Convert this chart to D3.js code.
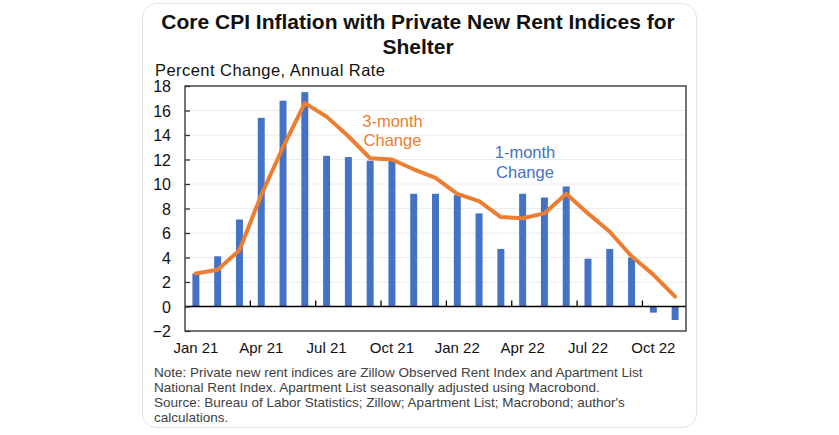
<!DOCTYPE html>
<html>
<head>
<meta charset="utf-8">
<script src="https://cdn.jsdelivr.net/npm/d3@7"></script>
<style>
  html, body { margin: 0; padding: 0; background: #ffffff; }
  svg { display: block; font-family: "Liberation Sans", Arial, sans-serif; }
</style>
</head>
<body>
<svg id="chart" width="839" height="435"></svg>
<script>
// ---- Data ----
const months = ["Jan 21","Feb 21","Mar 21","Apr 21","May 21","Jun 21","Jul 21","Aug 21","Sep 21","Oct 21","Nov 21","Dec 21",
                "Jan 22","Feb 22","Mar 22","Apr 22","May 22","Jun 22","Jul 22","Aug 22","Sep 22","Oct 22","Nov 22"];
const oneMonthChange = [2.7, 4.1, 7.1, 15.4, 16.8, 17.5, 12.3, 12.2, 11.9, 12.0, 9.2, 9.2,
                        9.1, 7.6, 4.7, 9.2, 8.9, 9.8, 3.9, 4.7, 4.0, -0.5, -1.1];
const threeMonthChange = [2.7, 3.0, 4.6, 9.1, 13.0, 16.6, 15.5, 13.9, 12.1, 12.0, 11.2, 10.5,
                          9.2, 8.6, 7.3, 7.2, 7.6, 9.2, 7.6, 6.1, 4.1, 2.6, 0.8];
const xTickLabels = ["Jan 21","Apr 21","Jul 21","Oct 21","Jan 22","Apr 22","Jul 22","Oct 22"];
const yTickValues = [-2, 0, 2, 4, 6, 8, 10, 12, 14, 16, 18];
const titleLines = ["Core CPI Inflation with Private New Rent Indices for", "Shelter"];
const yAxisTitle = "Percent Change, Annual Rate";
const noteLines = [
  "Note: Private new rent indices are Zillow Observed Rent Index and Apartment List",
  "National Rent Index. Apartment List seasonally adjusted using Macrobond.",
  "Source: Bureau of Labor Statistics; Zillow; Apartment List; Macrobond; author's",
  "calculations."
];

// ---- Layout ----
const svg = d3.select("#chart");
const plot = { left: 185, right: 686, top: 86, bottom: 331 };
const blue = "#4472C4", orange = "#ED7D31";

// card
svg.append("rect")
  .attr("x", 142.5).attr("y", 3.5).attr("width", 554).attr("height", 424)
  .attr("rx", 14).attr("ry", 14)
  .attr("fill", "#ffffff").attr("stroke", "#e3e3e3").attr("stroke-width", 1);

const x = d3.scaleBand().domain(months).range([plot.left, plot.right])
  .paddingInner(0.68).paddingOuter(0.34);
const y = d3.scaleLinear().domain([-2, 18]).range([plot.bottom, plot.top]);

// gridlines
svg.append("g").selectAll("line").data(yTickValues.filter(v => v !== 0 && v !== -2 && v !== 18))
  .join("line")
  .attr("x1", plot.left).attr("x2", plot.right)
  .attr("y1", d => y(d)).attr("y2", d => y(d))
  .attr("stroke", "#ececec").attr("stroke-width", 1);

// bars
svg.append("g").selectAll("rect").data(months)
  .join("rect")
  .attr("x", d => x(d))
  .attr("width", x.bandwidth())
  .attr("y", (d, i) => y(Math.max(0, oneMonthChange[i])))
  .attr("height", (d, i) => Math.abs(y(oneMonthChange[i]) - y(0)))
  .attr("fill", blue);

// zero line
svg.append("line")
  .attr("x1", plot.left).attr("x2", plot.right)
  .attr("y1", y(0)).attr("y2", y(0))
  .attr("stroke", "#000").attr("stroke-width", 1.3);

// x tick marks on zero line at quarter boundaries
const boundaries = months.map((m, i) => i).filter(i => i > 0 && i % 3 === 0);
svg.append("g").selectAll("line").data(boundaries)
  .join("line")
  .attr("x1", i => x(months[i]) - x.step() * x.paddingInner() / 2)
  .attr("x2", i => x(months[i]) - x.step() * x.paddingInner() / 2)
  .attr("y1", y(0)).attr("y2", y(0) - 6)
  .attr("stroke", "#000").attr("stroke-width", 1.3);

// 3-month line
const line = d3.line()
  .x((d, i) => x(months[i]) + x.bandwidth() / 2)
  .y(d => y(d));
svg.append("path").datum(threeMonthChange)
  .attr("d", line)
  .attr("fill", "none").attr("stroke", orange)
  .attr("stroke-width", 4).attr("stroke-linejoin", "round").attr("stroke-linecap", "round");

// frame
svg.append("rect")
  .attr("x", plot.left).attr("y", plot.top)
  .attr("width", plot.right - plot.left).attr("height", plot.bottom - plot.top)
  .attr("fill", "none").attr("stroke", "#3a3a3a").attr("stroke-width", 1.4);

// y axis
const yAxis = d3.axisLeft(y).tickValues(yTickValues).tickSizeInner(-5).tickSizeOuter(0).tickPadding(14);
const gy = svg.append("g").attr("transform", `translate(${plot.left},0)`).call(yAxis);
gy.select(".domain").remove();
gy.selectAll(".tick line").attr("stroke", "#333").attr("stroke-width", 1.3);
gy.selectAll(".tick text")
  .attr("font-size", "16px").attr("fill", "#111")
  .attr("dy", "0.36em")
  .attr("font-family", "'Liberation Sans', Arial, sans-serif");

// x axis labels
const xAxis = d3.axisBottom(x).tickValues(xTickLabels).tickSize(0).tickPadding(0);
const gx = svg.append("g").attr("transform", `translate(0,${plot.bottom})`).call(xAxis);
gx.select(".domain").remove();
gx.selectAll(".tick text")
  .attr("dy", null).attr("y", 22)
  .attr("font-size", "15px").attr("fill", "#111")
  .attr("font-family", "'Liberation Sans', Arial, sans-serif");

// title
svg.append("g").selectAll("text").data(titleLines)
  .join("text")
  .attr("x", 418).attr("y", (d, i) => 28.5 + i * 25)
  .attr("text-anchor", "middle")
  .attr("font-size", "21px").attr("font-weight", "bold").attr("fill", "#111")
  .text(d => d);

// y axis title
svg.append("text")
  .attr("x", 155).attr("y", 76)
  .attr("font-size", "16.5px").attr("fill", "#111")
  .attr("textLength", 230).attr("lengthAdjust", "spacing")
  .text(yAxisTitle);

// series labels
const lbl3 = svg.append("text").attr("text-anchor", "middle").attr("font-size", "16.5px").attr("fill", orange);
lbl3.append("tspan").attr("x", 392.5).attr("y", 127).text("3-month");
lbl3.append("tspan").attr("x", 392.5).attr("y", 145.5).text("Change");
const lbl1 = svg.append("text").attr("text-anchor", "middle").attr("font-size", "16.5px").attr("fill", blue);
lbl1.append("tspan").attr("x", 525).attr("y", 158).text("1-month");
lbl1.append("tspan").attr("x", 525).attr("y", 177.5).text("Change");

// notes
svg.append("g").selectAll("text").data(noteLines)
  .join("text")
  .attr("x", 154).attr("y", (d, i) => 377 + i * 15)
  .attr("font-size", "13.5px").attr("fill", "#404040")
  .text(d => d);
</script>
</body>
</html>
